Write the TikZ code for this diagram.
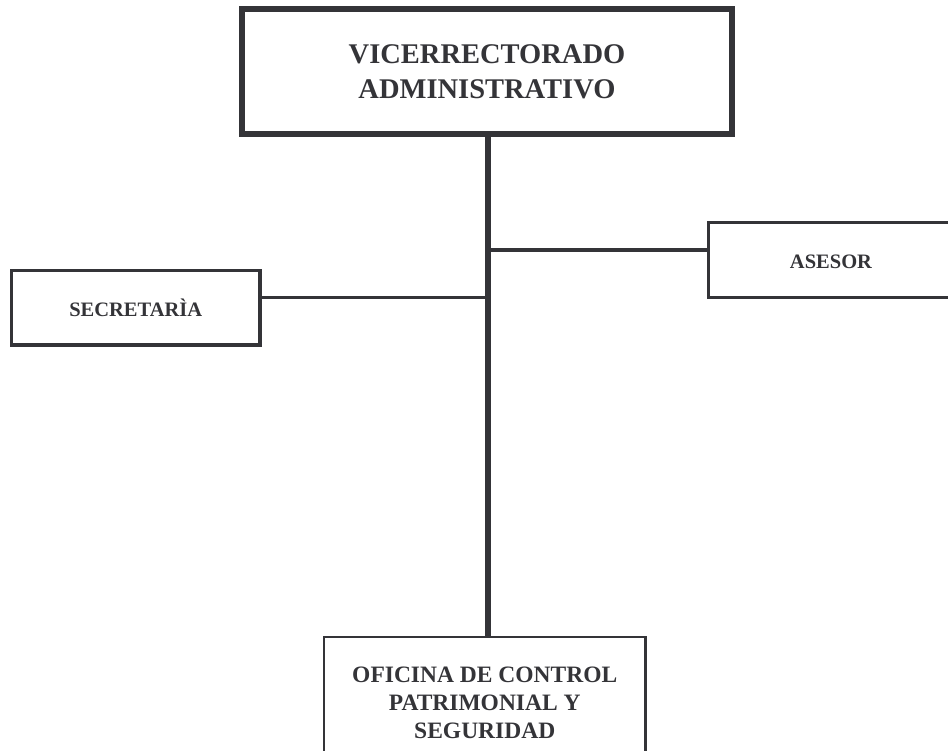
\documentclass[tikz,border=0pt]{standalone}
\usepackage{fontspec}
\setmainfont{Liberation Serif}
\definecolor{ink}{RGB}{52,52,56}
\tikzset{
  unit/.style={draw=ink, text=ink, inner sep=0pt, align=center, font=\bfseries},
  spine/.style={draw=ink, line width=6pt},
  link/.style={draw=ink, line width=3.3pt},
}
\begin{document}
\begin{tikzpicture}[x=1pt,y=-1pt]
\useasboundingbox (0,0) rectangle (948,751);
\clip (0,0) rectangle (948,751);
\node[unit, line width=5.5pt, minimum width=490pt, minimum height=125pt,
      font=\fontsize{28.5}{35}\selectfont\bfseries] (vice) at (487,71.5)
      {VICERRECTORADO\\ADMINISTRATIVO};
\node[unit, line width=3.7pt, minimum width=248.5pt, minimum height=74.5pt,
      font=\fontsize{20.5}{24}\selectfont\bfseries] (sec) at (135.75,307.75)
      {SECRETARÌA};
\node[unit, line width=3.5pt, minimum width=245pt, minimum height=75pt,
      text height=17.6pt, text depth=0pt,
      font=\fontsize{20.5}{24}\selectfont\bfseries] (ase) at (831,260)
      {ASESOR};
\node[unit, line width=2.5pt, minimum width=321.5pt, minimum height=132pt,
      font=\fontsize{23.5}{28}\selectfont\bfseries] (ofi) at (484.75,703)
      {OFICINA DE CONTROL\\PATRIMONIAL Y\\SEGURIDAD};
\coordinate (vx) at (488,0);
\coordinate (ja) at (488,250);
\coordinate (js) at (488,297.3);
\draw[spine] (vice.south -| vx) -- (ofi.north -| vx);
\draw[link] (ja) -- (ja -| ase.west);
\draw[link] (js) -- (js -| sec.east);
\end{tikzpicture}
\end{document}
